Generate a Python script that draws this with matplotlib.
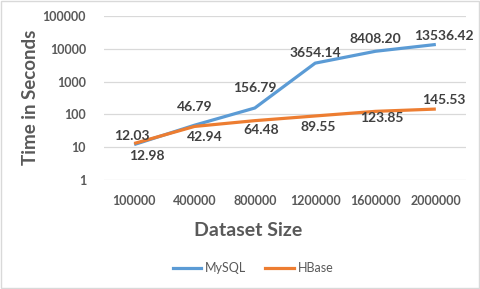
import matplotlib
matplotlib.use("Agg")
import matplotlib.pyplot as plt
from matplotlib.lines import Line2D
from matplotlib.patches import Rectangle

plt.rcParams['font.family'] = ['Lato', 'DejaVu Sans']

# data
dataset_sizes = ["100000", "400000", "800000", "1200000", "1600000", "2000000"]
mysql_times = [12.03, 46.79, 156.79, 3654.14, 8408.20, 13536.42]
hbase_times = [12.98, 42.94, 64.48, 89.55, 123.85, 145.53]
y_ticks = [1, 10, 100, 1000, 10000, 100000]

# label offsets in pixels (dx, dy), hand-tuned to match the reference
mysql_offsets = [(-2, 9), (0, 18), (0, 20), (0, 10), (0, 12), (8, 8)]
hbase_offsets = [(13, -13), (10, -11), (6, -9), (3, -11), (6, -7), (8, 9)]

blue = "#5B9BD5"
orange = "#ED7D31"
text_col = "#404040"
tick_col = "#595959"
grid_col = "#D9D9D9"

fig = plt.figure(figsize=(4.8, 2.89), dpi=100)
ax = fig.add_axes([104 / 480, 1 - 180 / 289, 362 / 480, 164 / 289])

x = list(range(len(dataset_sizes)))
ax.plot(x, mysql_times, color=blue, lw=2.3, solid_capstyle='butt')
ax.plot(x, hbase_times, color=orange, lw=2.3, solid_capstyle='butt')

ax.set_yscale('log')
ax.set_ylim(1, 100000)
ax.set_xlim(-0.5, len(dataset_sizes) - 0.5)
ax.set_yticks(y_ticks)
ax.set_yticklabels([str(t) for t in y_ticks])
ax.minorticks_off()
ax.set_xticks(x)
ax.set_xticklabels(dataset_sizes)
ax.tick_params(axis='both', length=0, labelsize=9, labelcolor=tick_col)
ax.tick_params(axis='y', pad=13)
ax.tick_params(axis='x', pad=11)
for lbl in ax.get_xticklabels() + ax.get_yticklabels():
    lbl.set_fontweight('bold')

ax.grid(axis='y', color=grid_col, lw=0.9)
ax.set_axisbelow(True)
for s in ax.spines.values():
    s.set_visible(False)

for xi, v, off in zip(x, mysql_times, mysql_offsets):
    ax.annotate(f"{v:.2f}", (xi, v), xytext=off, textcoords='offset pixels',
                ha='center', va='center', fontsize=10, fontweight='bold', color=text_col)
for xi, v, off in zip(x, hbase_times, hbase_offsets):
    ax.annotate(f"{v:.2f}", (xi, v), xytext=off, textcoords='offset pixels',
                ha='center', va='center', fontsize=10, fontweight='bold', color=text_col)

fig.text(30 / 480, 1 - 97 / 289, "Time in Seconds", rotation=90, ha='center', va='center',
         fontsize=13.5, fontweight='bold', color=tick_col)
fig.text(248 / 480, 1 - 230 / 289, "Dataset Size", ha='center', va='center',
         fontsize=14, fontweight='bold', color=tick_col)

handles = [Line2D([], [], color=blue, lw=2.3), Line2D([], [], color=orange, lw=2.3)]
fig.legend(handles, ["MySQL", "HBase"], loc='center', bbox_to_anchor=(253 / 480, 1 - 268 / 289),
           ncol=2, frameon=False, fontsize=9, handlelength=2.3, handletextpad=0.3,
           columnspacing=1.5, labelcolor=tick_col)

fig.patches.append(Rectangle((0.002, 0.003), 0.995, 0.993, transform=fig.transFigure,
                             fill=False, edgecolor=grid_col, lw=1))

fig.savefig("out.png", dpi=100, facecolor='white')
